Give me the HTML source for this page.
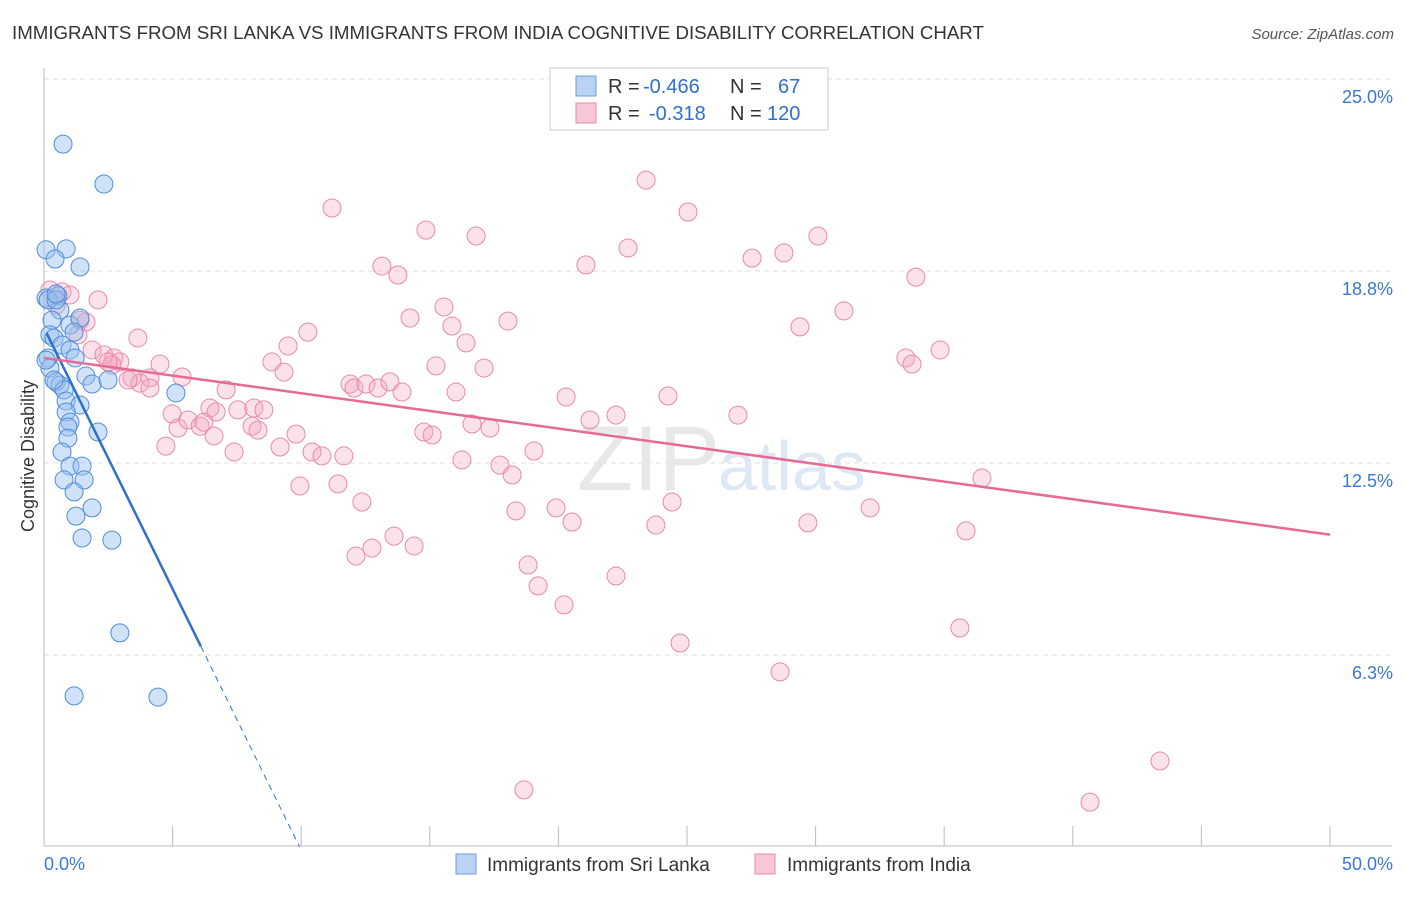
<!DOCTYPE html>
<html><head><meta charset="utf-8"><style>
body{margin:0;background:#fff;font-family:"Liberation Sans",sans-serif}
svg text{font-family:"Liberation Sans",sans-serif}
</style></head><body>
<svg width="1406" height="892" xmlns="http://www.w3.org/2000/svg">
<text x="12" y="39" font-size="18.7" fill="#333">IMMIGRANTS FROM SRI LANKA VS IMMIGRANTS FROM INDIA COGNITIVE DISABILITY CORRELATION CHART</text>
<text x="1394" y="39" font-size="15" fill="#555" font-style="italic" text-anchor="end">Source: ZipAtlas.com</text>
<g id="grid"></g>
<text x="720" y="490" font-size="92" fill="#e8e8e8" text-anchor="end" font-family="Liberation Serif">ZIP</text>
<text x="718" y="490" font-size="70" fill="#dde8f5">atlas</text>
<text transform="translate(34,456) rotate(-90)" font-size="18" fill="#333" text-anchor="middle">Cognitive Disability</text>
<g id="pts"></g>
<g id="lines"></g>
<g>
<rect x="550" y="68" width="278" height="62" fill="#fff" stroke="#ccc"/>
<rect x="576" y="76" width="20" height="20" fill="#b9d3f3" stroke="#6c9ee0"/>
<rect x="576" y="103" width="20" height="20" fill="#f8c6d6" stroke="#e88aa8"/>
<text y="93" font-size="20" fill="#333"><tspan x="608">R =</tspan><tspan x="643" fill="#2f6fd0">-0.466</tspan><tspan x="730">N =</tspan><tspan x="778" fill="#2f6fd0">67</tspan></text>
<text y="120" font-size="20" fill="#333"><tspan x="608">R =</tspan><tspan x="649" fill="#2f6fd0">-0.318</tspan><tspan x="730">N =</tspan><tspan x="767" fill="#2f6fd0">120</tspan></text>
</g>
<rect x="456" y="854" width="20" height="20" fill="#b9d3f3" stroke="#6c9ee0"/>
<text x="487" y="871" font-size="19" fill="#333">Immigrants from Sri Lanka</text>
<rect x="755" y="854" width="20" height="20" fill="#f8c6d6" stroke="#e88aa8"/>
<text x="787" y="871" font-size="19" fill="#333">Immigrants from India</text>
</svg>
<script>
const yTicks=[25.0,18.8,12.5,6.3];
const yTickVals=[25,18.75,12.5,6.25];
const xTickLabels=["0.0%","50.0%"];
const blueX=[.74,2.33,.08,.86,.43,1.40,.08,.54,.62,.16,.31,.23,1.01,1.40,1.17,.39,.70,1.01,1.21,.16,.23,1.63,.47,.62,.78,1.87,2.49,5.13,.86,1.40,.86,1.01,.93,2.10,.93,.70,1.01,1.48,1.56,.78,1.17,1.87,1.24,1.48,2.64,2.95,1.17,4.43,.47,.47,.08,.39];
const blueY=[22.88,21.58,19.44,19.47,19.14,18.88,17.87,17.94,17.48,17.81,17.15,16.67,16.99,17.22,16.76,16.57,16.34,16.18,15.92,15.92,15.59,15.33,15.14,15.04,14.88,15.07,15.20,14.78,14.52,14.39,14.16,13.83,13.67,13.51,13.31,12.86,12.40,12.40,11.95,11.95,11.56,11.04,10.77,10.06,9.99,6.97,4.92,4.88,17.81,18.0,15.85,15.20];
const pinkX=[.23,.70,1.01,2.10,.47,1.40,1.63,1.32,3.65,1.87,2.33,2.72,2.95,2.64,3.42,4.12,4.51,5.37,3.73,3.27,2.49,4.12,7.08,4.98,6.45,6.69,7.54,8.16,8.55,5.21,5.60,6.07,6.22,6.61,7.39,4.74,8.09,8.32,8.86,9.33,9.18,9.80,9.95,10.26,9.49,10.42,10.81,11.20,11.43,11.66,11.90,12.05,12.36,12.13,12.75,12.52,12.99,13.45,13.92,13.61,14.39,13.14,13.76,14.23,14.85,15.24,15.55,15.86,16.41,16.80,14.77,15.09,16.02,16.25,16.64,17.11,17.34,17.73,18.04,18.20,18.35,18.82,19.21,19.05,18.66,19.91,20.22,20.30,20.53,21.07,22.24,22.24,22.71,23.41,23.79,24.42,24.26,24.73,25.04,26.98,27.53,28.62,28.77,29.39,29.70,30.09,31.10,32.12,33.51,33.75,33.90,34.84,35.61,35.85,36.47,40.67,43.39,21.23];
const pinkY=[18.13,18.07,17.97,17.81,17.64,17.15,17.09,16.67,16.57,16.18,16.02,15.92,15.79,15.69,15.27,15.27,15.72,15.30,15.10,15.20,15.79,14.94,14.88,14.10,14.29,14.16,14.23,14.29,14.23,13.64,13.90,13.70,13.83,13.38,12.86,13.05,13.70,13.57,15.79,15.46,13.02,13.44,11.75,16.76,16.31,12.86,12.73,20.80,11.82,12.73,15.07,14.94,11.23,9.47,9.73,15.07,14.94,15.14,14.81,10.12,9.80,18.91,18.62,17.22,20.08,15.66,17.58,16.96,16.41,19.89,13.51,13.41,14.81,12.60,13.77,15.59,13.64,12.43,17.12,12.11,10.94,9.18,8.50,12.89,1.86,11.04,7.88,14.65,10.58,18.95,14.06,8.82,19.50,21.71,10.48,11.23,14.68,6.64,20.67,14.06,19.17,5.70,19.34,16.93,10.55,19.89,17.45,11.04,15.92,15.72,18.55,16.18,7.13,10.29,12.01,1.46,2.80,13.90];
const blueTrend=[16.9,-1.70];
const pinkTrend=[15.92,-0.115];
const NS="http://www.w3.org/2000/svg";
const X=v=>44+v*25.72, Y=v=>847-v*30.72;
function mk(t,a,p){const e=document.createElementNS(NS,t);for(const k in a)e.setAttribute(k,a[k]);p.appendChild(e);return e;}
const grid=document.getElementById('grid');
yTickVals.forEach((v,i)=>{
 const l=mk('line',{x1:44,x2:1392,y1:Y(v),y2:Y(v),stroke:'#ddd','stroke-dasharray':'5,4'},grid);
 
 
 const t=mk('text',{x:1393,y:Y(v)+24,'font-size':18,fill:'#3a78d4','text-anchor':'end'},grid);
 t.textContent=yTicks[i].toFixed(1)+'%';
 
 
});
const ax=mk('line',{x1:44,x2:1392,y1:846,y2:846,stroke:'#bbb'},grid);


const ay=mk('line',{x1:44,x2:44,y1:68,y2:846,stroke:'#bbb'},grid);


for(let i=0;i<=10;i++){const t=mk('line',{x1:X(i*5),x2:X(i*5),y1:826,y2:846,stroke:'#bbb'},grid);
 
 }
[[0,'start',44],[50,'end',1393]].forEach((d,i)=>{const t=mk('text',{x:d[2],y:870,'font-size':18,fill:'#3a78d4','text-anchor':d[1]},grid);t.textContent=xTickLabels[i];
 
 });
const pts=document.getElementById('pts');
pinkX.forEach((x,i)=>{const c=mk('circle',{cx:X(x),cy:Y(pinkY[i]),r:9,fill:'rgba(244,168,193,0.35)',stroke:'#e98aa8','stroke-width':1},pts);
 
 });
blueX.forEach((x,i)=>{const c=mk('circle',{cx:X(x),cy:Y(blueY[i]),r:9,fill:'rgba(150,190,238,0.45)',stroke:'#4f8ddb','stroke-width':1},pts);
 
 });
const lines=document.getElementById('lines');
const f=(tr,x)=>tr[0]+tr[1]*x;
const bl=mk('line',{x1:X(0.1),y1:Y(f(blueTrend,0.1)),x2:X(6.1),y2:Y(f(blueTrend,6.1)),stroke:'#2f6fd0','stroke-width':2.5},lines);


const bd=mk('line',{x1:X(6.1),y1:Y(f(blueTrend,6.1)),x2:X(9.94),y2:Y(f(blueTrend,9.94)),stroke:'#2f6fd0','stroke-width':1,'stroke-dasharray':'6,5'},lines);


const pl=mk('line',{x1:X(0),y1:Y(f(pinkTrend,0)),x2:X(50),y2:Y(f(pinkTrend,50)),stroke:'#e66a93','stroke-width':2.5},lines);


</script>
</body></html>
